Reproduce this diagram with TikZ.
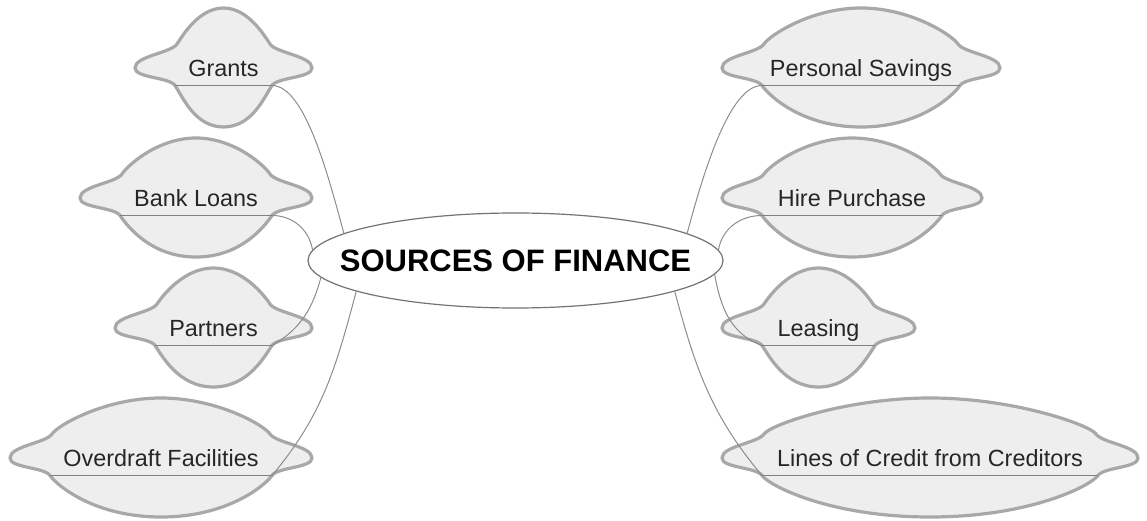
\documentclass[tikz,border=0pt]{standalone}
\usepackage{fontspec}
\setmainfont{Liberation Sans}
\usetikzlibrary{shapes.geometric}
\definecolor{saucerfill}{HTML}{EEEEEE}
\definecolor{saucerdrk}{HTML}{A8A8A8}
\definecolor{linkdrk}{HTML}{8C8C8C}

\tikzset{
  saucer/.style={draw=saucerdrk, fill=saucerfill, line width=1.6pt},
  rim/.style={draw=black!50, line width=0.5pt},
  branchtext/.style={font=\fontsize{11.7}{14}\selectfont, text=black!85, inner sep=0pt, text height=8.4pt, text depth=0pt},
  link/.style={draw=linkdrk, line width=0.5pt},
  hub/.style={ellipse, draw=black!55, line width=0.6pt, fill=white, minimum width=207.5pt, minimum height=47.5pt, inner sep=0pt, font=\fontsize{15.5}{18}\selectfont\bfseries}
}

% name, x, y, half width, text
\newcommand{\saucernode}[5]{%
  \pgfmathsetmacro{\sdome}{#4-40}%
  \pgfmathsetmacro{\sdk}{0.5*\sdome}%
  \pgfmathsetmacro{\sdb}{0.6*\sdome}%
  \begin{scope}[shift={(#2,#3)}]
    \path[saucer] (-#4,0) .. controls (-#4,12) and (-\sdome-4,15) .. (-\sdome+2,24)
      .. controls (-\sdome+8,33) and (-\sdk,60) .. (0,60)
      .. controls (\sdk,60) and (\sdome-8,33) .. (\sdome-2,24)
      .. controls (\sdome+4,15) and (#4,12) .. (#4,0)
      .. controls (#4,-10) and (\sdome+6,-9) .. (\sdome,-17.5)
      .. controls (\sdome-7,-27.5) and (\sdb,-59) .. (0,-59)
      .. controls (-\sdb,-59) and (-\sdome+7,-27.5) .. (-\sdome,-17.5)
      .. controls (-\sdome-6,-9) and (-#4,-10) .. cycle;
    \draw[rim] (-\sdome,-17.5) -- (\sdome,-17.5);
    \coordinate (#1-w) at (-\sdome,-17.5);
    \coordinate (#1-e) at (\sdome,-17.5);
    \node[branchtext] (#1) at (0,0) {#5};
  \end{scope}
}

\begin{document}
\begin{tikzpicture}[x=0.5pt, y=0.5pt]
		\useasboundingbox (0,0) rectangle (1147,520);
		
		\saucernode{1}{223.5}{452}{88.5}{Grants}
		\saucernode{2}{196}{322}{116}{Bank Loans}
		\saucernode{3}{213.5}{192}{98.5}{Partners}
		\saucernode{4}{161}{62}{151}{Overdraft Facilities}
		
		\saucernode{5}{861}{452}{139}{Personal Savings}
		\saucernode{6}{852}{322}{130}{Hire Purchase}
		\saucernode{7}{818.5}{192}{96.5}{Leasing}
		\saucernode{8}{930}{62}{208}{Lines of Credit from Creditors}
		
		\node[hub] (0) at (515.5,259.5) {\makebox[0pt]{SOURCES OF FINANCE}};
		
		\draw[link] (0.171) to[out=105, in=0, in looseness=0.5] (1-e); % left
		\draw[link] (0.177) to[out=100, in=0] (2-e); % left
		\draw[link] (0.185) to[out=-105, in=30] (3-e); % left
		\draw[link] (0.191) to[out=-105, in=50] (4-e); % left
		
		\draw[link] (0.9) to[out=75, in=180, in looseness=0.5] (5-w); % right
		\draw[link] (0.3) to[out=80, in=180] (6-w); % right
		\draw[link] (0.356) to[out=-80, in=160] (7-w); % right
		\draw[link] (0.349) to[out=-75, in=130] (8-w); % right
	\end{tikzpicture}
\end{document}
